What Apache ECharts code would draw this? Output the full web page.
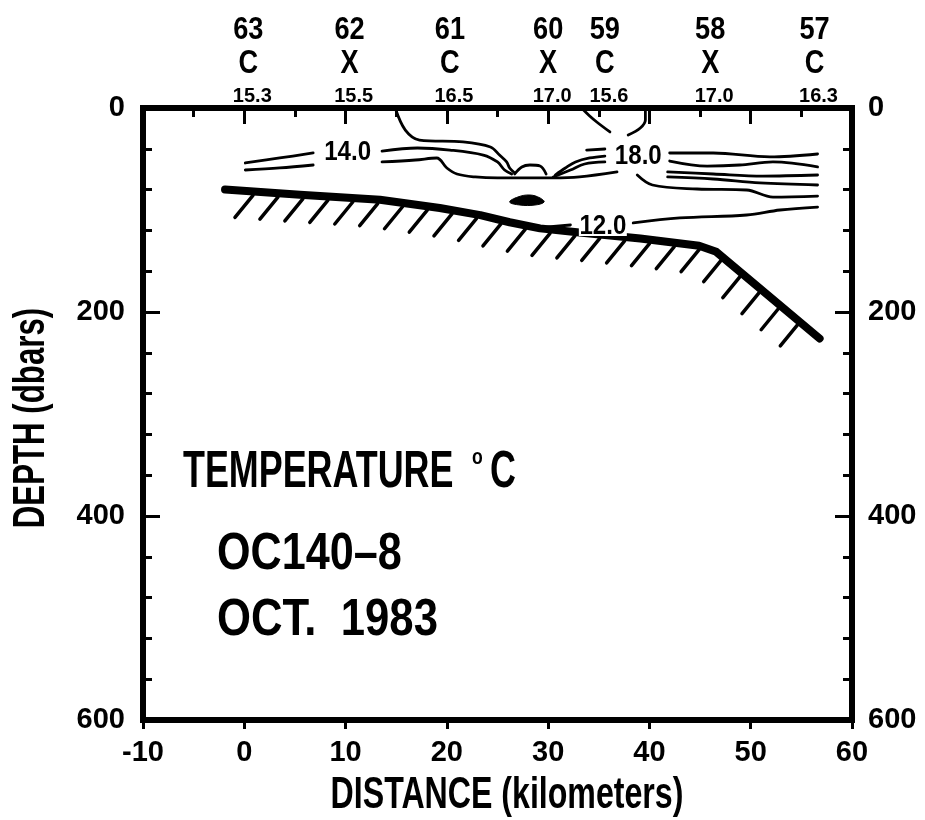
<!DOCTYPE html>
<html>
<head>
<meta charset="utf-8">
<script src="https://cdn.jsdelivr.net/npm/echarts@6/dist/echarts.min.js"></script>
<style>
  html, body { margin: 0; padding: 0; background: #fff; }
  #chart { width: 925px; height: 820px; }
</style>
</head>
<body>
<div id="chart"></div>
<script>
// ---- Stations along the section (annotated above the plot) ----
const stationIds   = ['63', '62', '61', '60', '59', '58', '57'];
const stationTypes = ['C', 'X', 'C', 'X', 'C', 'X', 'C'];
const surfaceTemps = ['15.3', '15.5', '16.5', '17.0', '15.6', '17.0', '16.3'];
const stationKm    = [0.4, 10.4, 20.3, 30.0, 35.6, 46.0, 56.3];

// ---- Axis ranges / tick steps ----
const distanceRange = [-10, 60];
const distanceStep  = 10;
const depthRange    = [0, 600];
const depthStep     = 200;

// ---- Sea floor profile ----
const bottomKm    = [-1.9, 5.5, 13.4, 19.3, 23.3, 26.2, 29.2, 33.1, 39.1, 44.9, 46.6, 56.8];
const bottomDepth = [80, 85, 90, 98, 105, 112, 118, 122, 128, 135, 141, 226];

// ---- Isotherms, [distance km, depth dbar] ----
const iso14UpperWest = [[0.1, 53.9], [3.5, 49.0], [6.8, 44.1]];
const iso14UpperEast = [[13.6, 42.2], [17.1, 39.2], [20.3, 41.2], [23.6, 46.1], [25.0, 52.9], [25.7, 60.8], [26.4, 64.7]];
const iso14LowerWest = [[0.1, 60.8], [3.5, 58.8], [6.8, 55.9]];
const iso14LowerEast = [[13.6, 52.9], [16.9, 51.0], [19.0, 49.0], [20.0, 58.8], [21.0, 64.7], [22.8, 67.6], [25.0, 68.6],
                        [28.2, 68.6], [30.5, 68.6], [33.1, 67.6], [36.8, 62.7]];
const isoSurfaceWest = [[14.9, 0], [15.9, 21.6], [17.3, 31.4], [21.6, 33.3], [24.3, 38.2], [25.2, 46.1], [25.9, 52.9], [26.2, 58.8], [26.7, 63.7]];
const isoDome        = [[26.7, 64.7], [27.4, 57.8], [28.2, 55.9], [29.2, 56.9], [29.8, 64.7]];
const isoRiseA       = [[30.7, 65.7], [31.7, 58.8], [32.7, 52.9], [34.1, 49.0], [35.6, 47.1]];
const isoRiseB       = [[30.5, 67.6], [32.2, 60.8], [33.6, 54.9], [35.6, 52.9]];
const isoDash        = [[33.8, 41.2], [35.6, 40.2]];
const isoSurfaceMidA = [[33.3, 0], [34.1, 7.8], [34.8, 13.7], [36.1, 23.5]];
const isoSurfaceMidB = [[39.6, 0], [39.6, 11.8], [39.1, 19.6], [37.9, 26.5]];
const iso18East1     = [[42.0, 44.1], [46.3, 44.1], [51.9, 48.0], [56.6, 45.1]];
const iso18East2     = [[42.0, 52.0], [45.7, 56.9], [48.9, 55.9], [52.2, 52.9], [56.6, 57.8]];
const iso18East3     = [[41.8, 62.7], [46.3, 64.7], [51.2, 66.7], [56.6, 65.7]];
const iso18East4     = [[41.8, 67.6], [46.3, 69.6], [50.9, 73.5], [56.6, 75.5]];
const iso16East      = [[38.8, 65.7], [40.3, 75.5], [44.7, 79.4], [49.6, 80.4], [52.2, 87.3], [56.6, 86.3]];
const iso12East      = [[38.4, 112.7], [43.0, 107.8], [49.6, 104.9], [52.9, 100.0], [56.6, 97.1]];
const iso12West      = [[28.9, 117.6], [32.2, 114.7]];

// Cold core patch near station 60
const coreKm    = [26.2, 27.0, 28.2, 29.2, 29.6, 28.7, 27.2];
const coreDepth = [92.2, 87.3, 85.3, 88.2, 92.2, 95.1, 95.1];

// Isotherm labels
const isoLabels     = ['14.0', '18.0', '12.0'];
const isoLabelKm    = [10.2, 38.9, 35.4];
const isoLabelDepth = [43.1, 47.1, 115.7];

const INK  = '#000';
const FONT = '"Liberation Sans", Arial, Helvetica, sans-serif';

const isotherms = [
  iso14UpperWest, iso14UpperEast, iso14LowerWest, iso14LowerEast, isoSurfaceWest, isoDome,
  isoRiseA, isoRiseB, isoDash, isoSurfaceMidA, isoSurfaceMidB,
  iso18East1, iso18East2, iso18East3, iso18East4, iso16East, iso12East, iso12West
];

function isothermSeries(points) {
  return {
    type: 'line', data: points, smooth: 0.35, symbol: 'none', silent: true, z: 3,
    lineStyle: { color: INK, width: 2.8, cap: 'round', join: 'round' }
  };
}

function textEl(x, y, text, font, sx) {
  return {
    type: 'text', x: x, y: y, scaleX: sx,
    style: { text: text, font: font, fill: INK, align: 'center', verticalAlign: 'middle',
             textAlign: 'center', textVerticalAlign: 'middle' }
  };
}

function blockText(x, y, text, font, sx, align, rotation) {
  return {
    type: 'text', x: x, y: y, scaleX: sx, rotation: rotation || 0,
    style: { text: text, font: font, fill: INK, align: align, verticalAlign: 'middle',
             textAlign: align, textVerticalAlign: 'middle' }
  };
}

const tickLabel = { color: INK, fontFamily: FONT, fontWeight: 'bold', fontSize: 29 };
const frameLine = { color: INK, width: 6, cap: 'square' };
const tickLine  = { color: INK, width: 3 };

const chart = echarts.init(document.getElementById('chart'));

const option = {
  animation: false,
  backgroundColor: '#fff',
  grid: { left: 143, right: 73, top: 108, bottom: 100 },
  xAxis: [
    {
      type: 'value', position: 'bottom',
      min: distanceRange[0], max: distanceRange[1], interval: distanceStep,
      axisLine: { onZero: false, lineStyle: frameLine },
      axisTick: { length: 9, lineStyle: tickLine },
      axisLabel: Object.assign({ margin: 18 }, tickLabel),
      splitLine: { show: false }
    },
    {
      type: 'value', position: 'top',
      min: distanceRange[0], max: distanceRange[1], interval: distanceStep,
      axisLine: { onZero: false, lineStyle: frameLine },
      axisTick: { inside: true, length: 16, lineStyle: tickLine },
      minorTick: { show: true, splitNumber: 2, length: 9, lineStyle: tickLine },
      axisLabel: { show: false },
      splitLine: { show: false }
    }
  ],
  yAxis: [
    {
      type: 'value', position: 'left', inverse: true,
      min: depthRange[0], max: depthRange[1], interval: depthStep,
      axisLine: { onZero: false, lineStyle: frameLine },
      axisTick: { inside: true, length: 17, lineStyle: tickLine },
      minorTick: { show: true, splitNumber: 5, length: 9, lineStyle: tickLine },
      axisLabel: Object.assign({ margin: 18 }, tickLabel),
      splitLine: { show: false }
    },
    {
      type: 'value', position: 'right', inverse: true,
      min: depthRange[0], max: depthRange[1], interval: depthStep,
      axisLine: { onZero: false, lineStyle: frameLine },
      axisTick: { inside: true, length: 17, lineStyle: tickLine },
      minorTick: { show: true, splitNumber: 5, length: 9, lineStyle: tickLine },
      axisLabel: Object.assign({ margin: 16 }, tickLabel),
      splitLine: { show: false }
    }
  ],
  graphic: [
    blockText(183, 473, 'TEMPERATURE', 'bold 52px ' + FONT, 0.69, 'left'),
    blockText(472, 458, 'o', 'bold 22px ' + FONT, 0.8, 'left'),
    blockText(490, 473, 'C', 'bold 52px ' + FONT, 0.69, 'left'),
    blockText(217, 555, 'OC140\u20138', 'bold 52px ' + FONT, 0.83, 'left'),
    blockText(217, 621, 'OCT.  1983', 'bold 52px ' + FONT, 0.84, 'left'),
    blockText(507, 796, 'DISTANCE (kilometers)', 'bold 44px ' + FONT, 0.73, 'center'),
    blockText(32, 418, 'DEPTH (dbars)', 'bold 44px ' + FONT, 0.71, 'center', Math.PI / 2)
  ],
  series: [
    ...isotherms.map(isothermSeries),
    // cold core patch
    {
      type: 'custom', silent: true, z: 3, clip: false,
      data: coreKm.map((k, i) => [k, coreDepth[i]]),
      renderItem(params, api) {
        if (params.dataIndex !== 0) return null;
        const pts = coreKm.map((k, i) => api.coord([k, coreDepth[i]]));
        return { type: 'polygon', shape: { points: pts, smooth: 0.4 }, style: { fill: INK, stroke: INK, lineWidth: 1 } };
      }
    },
    // sea floor
    {
      type: 'line', silent: true, z: 5, symbol: 'none',
      data: bottomKm.map((k, i) => [k, bottomDepth[i]]),
      lineStyle: { color: INK, width: 8, cap: 'round', join: 'round' }
    },
    // hatching beneath the sea floor
    {
      type: 'custom', silent: true, z: 4, clip: false,
      data: bottomKm.map((k, i) => [k, bottomDepth[i]]),
      renderItem(params, api) {
        if (params.dataIndex !== 0) return null;
        const pts = bottomKm.map((k, i) => api.coord([k, bottomDepth[i]]));
        let total = 0;
        for (let i = 0; i < pts.length - 1; i++) total += Math.hypot(pts[i + 1][0] - pts[i][0], pts[i + 1][1] - pts[i][1]);
        const children = [];
        const step = 25;
        let next = 27, acc = 0;
        for (let i = 0; i < pts.length - 1; i++) {
          const [x0, y0] = pts[i], [x1, y1] = pts[i + 1];
          const len = Math.hypot(x1 - x0, y1 - y0);
          while (next <= acc + len && next <= total - 6) {
            const t = (next - acc) / len;
            const x = x0 + (x1 - x0) * t, y = y0 + (y1 - y0) * t;
            children.push({
              type: 'line',
              shape: { x1: x + 1, y1: y + 4, x2: x - 17, y2: y + 26 },
              style: { stroke: INK, lineWidth: 3.5, lineCap: 'round' }
            });
            next += step;
          }
          acc += len;
        }
        return { type: 'group', children: children };
      }
    },
    // isotherm labels
    {
      type: 'custom', silent: true, z: 6, clip: false,
      data: isoLabelKm.map((k, i) => [k, isoLabelDepth[i]]),
      renderItem(params, api) {
        const p = api.coord([api.value(0), api.value(1)]);
        return {
          type: 'group',
          children: [
            { type: 'rect', shape: { x: p[0] - 24, y: p[1] - 10, width: 48, height: 20 }, style: { fill: '#fff' } },
            textEl(p[0], p[1], isoLabels[params.dataIndex], 'bold 28px ' + FONT, 0.86)
          ]
        };
      }
    },
    // station annotations above the frame
    {
      type: 'custom', silent: true, z: 6, clip: false,
      data: stationKm.map((k) => [k, 0]),
      renderItem(params, api) {
        const i = params.dataIndex;
        const p = api.coord([api.value(0), api.value(1)]);
        return {
          type: 'group',
          children: [
            textEl(p[0], p[1] - 78, stationIds[i], 'bold 32px ' + FONT, 0.85),
            textEl(p[0], p[1] - 44, stationTypes[i], 'bold 34px ' + FONT, 0.8),
            textEl(p[0] + 4, p[1] - 12, surfaceTemps[i], 'bold 20px ' + FONT, 1)
          ]
        };
      }
    }
  ]
};

chart.setOption(option);
</script>
</body>
</html>
